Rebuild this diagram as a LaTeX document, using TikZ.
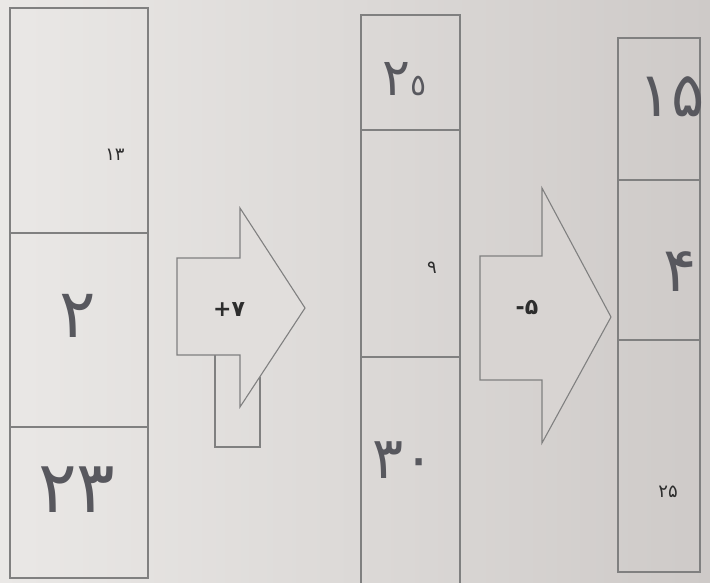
\documentclass[tikz,border=0pt]{standalone}
\usepackage{fontspec}
\newfontfamily\fa[Script=Arabic]{DejaVu Sans}
\definecolor{paperL}{RGB}{234,232,230}
\definecolor{paperR}{RGB}{206,202,200}
\definecolor{paperM}{RGB}{225,222,220}
\definecolor{paperN}{RGB}{216,212,210}
\definecolor{ink}{RGB}{128,128,128}
\definecolor{pen}{RGB}{88,88,94}
\definecolor{prt}{RGB}{45,45,45}
\tikzset{
  cell/.style={draw=ink, line width=1.2pt, inner sep=0pt, fill=none},
  shape line/.style={draw=ink, line width=1.1pt, line join=miter},
  small/.style={text=prt, inner sep=0pt, font=\fa\fontsize{18}{18}\selectfont},
  oplabel/.style={text=prt, inner sep=0pt, font=\fa\bfseries\fontsize{22}{22}\selectfont},
  hand/.style={text=pen, inner sep=0pt, font=\fa\fontsize{62}{62}\selectfont},
}
\begin{document}
\begin{tikzpicture}[x=1pt,y=-1pt]
\shade[left color=paperL, right color=paperR] (0,0) rectangle (710,582);
\useasboundingbox (0,0) rectangle (710,582);
% column 1
\node[cell, minimum width=138, minimum height=225] (c1a) at (79,120.5) {};
\node[cell, minimum width=138, minimum height=194] (c1b) at (79,330) {};
\node[cell, minimum width=138, minimum height=151] (c1c) at (79,502.5) {};
% column 2
\node[cell, minimum width=99, minimum height=115] (c2a) at (410.5,72.5) {};
\node[cell, minimum width=99, minimum height=227] (c2b) at (410.5,243.5) {};
\node[cell, minimum width=99, minimum height=240] (c2c) at (410.5,477) {};
% column 3
\node[cell, minimum width=82, minimum height=142] (c3a) at (659,109) {};
\node[cell, minimum width=82, minimum height=160] (c3b) at (659,260) {};
\node[cell, minimum width=82, minimum height=232] (c3c) at (659,456) {};
% small rectangle behind arrow 1
\draw[shape line] (260,376.5) -- (260,447) -- (215,447) -- (215,355);
% arrow 1
\draw[shape line, fill=paperM] (177,258) -- (240,258) -- (240,208) -- (305,308)
  -- (240,407) -- (240,355) -- (177,355) -- cycle;
% arrow 2
\draw[shape line, fill=paperN] (480,256) -- (542,256) -- (542,188) -- (611,317)
  -- (542,443) -- (542,380) -- (480,380) -- cycle;
% labels
\node[oplabel] (op1) at (229,310) {\mbox{+}\mbox{۷}};
\node[oplabel] (op2) at (527,308) {\mbox{-}\mbox{۵}};
\node[small] (n13) at (115,155) {۱۳};
\node[small] (n9) at (432,268) {۹};
\node[small] (n25) at (668,492) {۲۵};
% handwritten answers
\node[hand, font=\fa\fontsize{68}{68}\selectfont] (h2) at (78,316) {۲};
\node[hand, font=\fa\fontsize{72}{72}\selectfont] (h23) at (77,490) {۲۳};
\node[hand, font=\fa\fontsize{52}{52}\selectfont, anchor=base] (h20) at (405,95)
  {۲\mbox{\fontsize{30}{30}\selectfont ٥}};
\node[hand, font=\fa\fontsize{58}{58}\selectfont] (h30) at (404,460) {۳۰};
\node[hand, font=\fa\fontsize{62}{62}\selectfont] (h15) at (672,97) {۱۵};
\node[hand, font=\fa\fontsize{62}{62}\selectfont] (h4) at (680,272) {۴};
\end{tikzpicture}
\end{document}
